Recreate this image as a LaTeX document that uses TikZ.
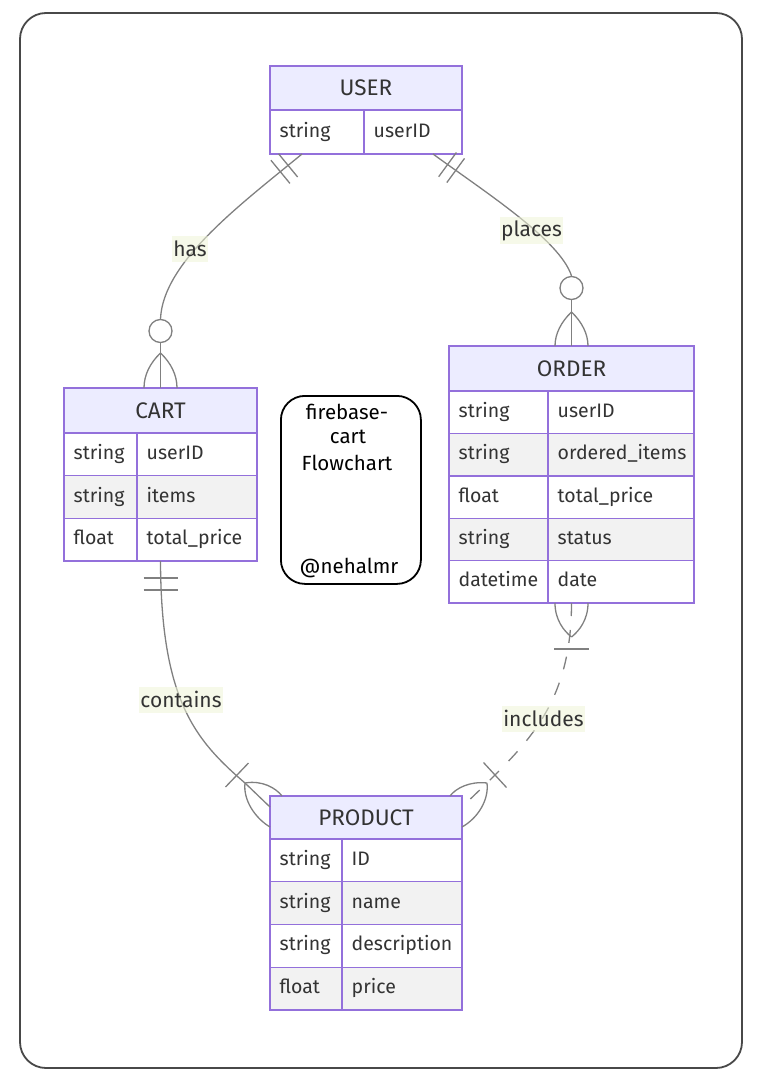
\documentclass[tikz,border=0pt]{standalone}
\usepackage{fontspec}
\setmainfont{Fira Sans}
\definecolor{erpurple}{RGB}{147,112,219}
\definecolor{hdrfill}{RGB}{236,236,255}
\definecolor{rowgrey}{RGB}{242,242,242}
\definecolor{relc}{RGB}{128,128,128}
\definecolor{txtc}{RGB}{51,51,51}
\definecolor{lblbg}{RGB}{238,244,215}
\definecolor{framec}{RGB}{72,72,72}
\newcommand{\ecell}[7]{%
  \node[cell, fill=#6, minimum width=#4, minimum height=#5, anchor=north west] (#1) at (#2,#3) {};
  \node[celltext] (#1txt) at ([xshift=9.5pt]#1.west) {#7};
}
\begin{document}
\begin{tikzpicture}[x=1pt,y=-1pt,
  ent/.style={draw=erpurple, line width=1.4pt, inner sep=0pt, outer sep=0pt},
  hdr/.style={ent, fill=hdrfill, font=\fontsize{22.5}{25}\selectfont, text=txtc, anchor=north west},
  cell/.style={ent},
  celltext/.style={font=\fontsize{19.5}{22}\selectfont, text=txtc, inner sep=0pt, anchor=west, text height=14pt, text depth=4pt},
  rel/.style={draw=relc, line width=1.3pt},
  circ/.style={circle, draw=relc, line width=1.3pt, fill=white, minimum size=23pt, inner sep=0pt},
  lbl/.style={fill=lblbg, fill opacity=0.55, text opacity=1, text=txtc, font=\fontsize{21}{24}\selectfont, inner xsep=1pt, minimum height=26pt},
  notebox/.style={draw=black, line width=1.8pt, rounded corners=24pt, fill=white},
  notetxt/.style={font=\fontsize{20.5}{23}\selectfont, text=black, inner sep=0pt},
]
\useasboundingbox (0,0) rectangle (756,1084);
\draw[draw=framec, line width=1.8pt, rounded corners=26pt] (20,13) rectangle (742,1068);

% USER
\node[hdr, minimum width=192, minimum height=44] (userhdr) at (270,66) {USER};
\ecell{user1a}{270}{110}{94}{44}{white}{string}
\ecell{user1b}{364}{110}{98}{44}{white}{userID}

% CART
\node[hdr, minimum width=193, minimum height=45] (carthdr) at (64,388) {CART};
\ecell{cart1a}{64}{433}{73}{42.67}{white}{string}
\ecell{cart1b}{137}{433}{120}{42.67}{white}{userID}
\ecell{cart2a}{64}{475.67}{73}{42.67}{rowgrey}{string}
\ecell{cart2b}{137}{475.67}{120}{42.67}{rowgrey}{items}
\ecell{cart3a}{64}{518.33}{73}{42.67}{white}{float}
\ecell{cart3b}{137}{518.33}{120}{42.67}{white}{total\_price}

% ORDER
\node[hdr, minimum width=245, minimum height=45] (orderhdr) at (449,346) {ORDER};
\ecell{order1a}{449}{391}{99}{42.4}{white}{string}
\ecell{order1b}{548}{391}{146}{42.4}{white}{userID}
\ecell{order2a}{449}{433.4}{99}{42.4}{rowgrey}{string}
\ecell{order2b}{548}{433.4}{146}{42.4}{rowgrey}{ordered\_items}
\ecell{order3a}{449}{475.8}{99}{42.4}{white}{float}
\ecell{order3b}{548}{475.8}{146}{42.4}{white}{total\_price}
\ecell{order4a}{449}{518.2}{99}{42.4}{rowgrey}{string}
\ecell{order4b}{548}{518.2}{146}{42.4}{rowgrey}{status}
\ecell{order5a}{449}{560.6}{99}{42.4}{white}{datetime}
\ecell{order5b}{548}{560.6}{146}{42.4}{white}{date}

% PRODUCT
\node[hdr, minimum width=192, minimum height=43] (prodhdr) at (270,796) {PRODUCT};
\ecell{prod1a}{270}{839}{72}{42.75}{white}{string}
\ecell{prod1b}{342}{839}{120}{42.75}{white}{ID}
\ecell{prod2a}{270}{881.75}{72}{42.75}{rowgrey}{string}
\ecell{prod2b}{342}{881.75}{120}{42.75}{rowgrey}{name}
\ecell{prod3a}{270}{924.5}{72}{42.75}{white}{string}
\ecell{prod3b}{342}{924.5}{120}{42.75}{white}{description}
\ecell{prod4a}{270}{967.25}{72}{42.75}{rowgrey}{float}
\ecell{prod4b}{342}{967.25}{120}{42.75}{rowgrey}{price}

% note
\node[notebox, minimum width=140, minimum height=188, anchor=north west] (note) at (280,395) {};
\node[notetxt] (n1) at (347,412) {firebase-};
\node[notetxt] (n2) at (348,437) {cart};
\node[notetxt] (n3) at (347,463) {Flowchart};
\node[notetxt] (n4) at (349,568) {@nehalmr};

% HAS : USER ||--o{ CART
\coordinate (hasS) at ([xshift=32pt]user1a.south west);
\node[circ] (hasC) at (160.5,331) {};
\draw[rel] (hasS) .. controls (240,205) and (163,262) .. (hasC.north);
\draw[rel] (hasC.south) -- (carthdr.north);
\coordinate (hasA) at (160.5,353);
\draw[rel] (hasA) .. controls (150,363) and (144,375) .. ([xshift=-16.5pt]carthdr.north);
\draw[rel] (hasA) .. controls (171,363) and (177,375) .. ([xshift=16.5pt]carthdr.north);
\draw[rel] (278.6,153.8) -- (297.6,177.0);
\draw[rel] (270.9,160.2) -- (289.9,183.4);

% PLACES : USER ||--o{ ORDER
\coordinate (plS) at ([xshift=-29pt]user1b.south east);
\node[circ] (plC) at (571.5,288) {};
\draw[rel] (plS) .. controls (485,192) and (560,240) .. (plC.north);
\draw[rel] (plC.south) -- (orderhdr.north);
\coordinate (plA) at (571.5,312);
\draw[rel] (plA) .. controls (561,322) and (555,334) .. ([xshift=-16.5pt]orderhdr.north);
\draw[rel] (plA) .. controls (582,322) and (588,334) .. ([xshift=16.5pt]orderhdr.north);
\draw[rel] (438.7,176.7) -- (456.4,152.5);
\draw[rel] (446.8,182.6) -- (464.5,158.4);

% CONTAINS : CART ||--|{ PRODUCT
\coordinate (coS) at (carthdr.north |- cart3a.south);
\coordinate (coA) at (245,783);
\coordinate (coE) at ([yshift=10.5pt]prodhdr.west);
\draw[rel] (coS) .. controls (161,700) and (195,740) .. (coA) -- (coE);
\draw[rel] (143.5,578) -- (177.5,578);
\draw[rel] (143.5,590) -- (177.5,590);
\draw[rel] (225.5,787) -- (248.5,763);
\draw[rel] (coA) .. controls (262,780) and (276,788) .. ([xshift=12pt]prodhdr.north west);
\draw[rel] (coA) .. controls (243,800) and (255,818) .. ([yshift=-31pt]prodhdr.north west);

% INCLUDES : ORDER }|..|{ PRODUCT
\coordinate (inS) at (orderhdr.north |- order5a.south);
\coordinate (inA) at (487,783);
\coordinate (inE) at ([yshift=10.5pt]prodhdr.east);
\draw[rel, dash pattern=on 13pt off 14pt] (inS) .. controls (571.5,700) and (530,740) .. (inA) -- (inE);
\coordinate (inO) at (571.5,637);
\draw[rel] ([xshift=-16.5pt]inS) .. controls (555,620) and (564,631) .. (inO);
\draw[rel] ([xshift=16.5pt]inS) .. controls (588,620) and (579,631) .. (inO);
\draw[rel] (554,649) -- (589,649);
\draw[rel] (483.5,762.5) -- (506.5,787.5);
\draw[rel] (inA) .. controls (470,781) and (456,788) .. ([xshift=-12pt]prodhdr.north east);
\draw[rel] (inA) .. controls (489,800) and (478,818) .. ([yshift=-31pt]prodhdr.north east);

% labels
\node[lbl] (lhas) at (190,249) {has};
\node[lbl] (lplaces) at (531.5,230.5) {places};
\node[lbl] (lcontains) at (181,699.5) {contains};
\node[lbl] (lincludes) at (543.5,718.5) {includes};
\end{tikzpicture}
\end{document}
